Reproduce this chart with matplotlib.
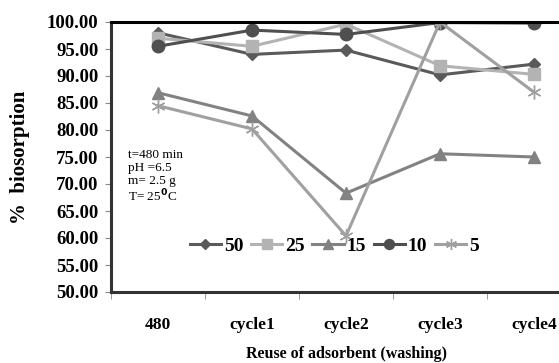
import matplotlib.pyplot as plt

plt.rcParams['font.family'] = ['Liberation Serif', 'DejaVu Serif']

cycles = ['480', 'cycle1', 'cycle2', 'cycle3', 'cycle4']
s50 = [98.0, 94.0, 94.8, 90.2, 92.2]
s25 = [97.0, 95.5, 99.6, 91.9, 90.3]
s15 = [86.9, 82.6, 68.3, 75.6, 75.0]
s10 = [95.5, 98.5, 97.7, 99.9, 99.8]
s5 = [84.5, 80.2, 60.4, 100.0, 87.0]
labels = ['50', '25', '15', '10', '5']

fig = plt.figure(figsize=(5.59, 3.63), dpi=100)
ax = fig.add_axes([111 / 559, 71 / 363, 470 / 559, 270 / 363])

x = range(len(cycles))
ax.plot(x, s50, color='#5a5a5a', lw=2.2, marker='D', ms=6, label=labels[0])
ax.plot(x, s25, color='#b3b3b3', lw=2.2, marker='s', ms=9, label=labels[1])
ax.plot(x, s15, color='#828282', lw=2.2, marker='^', ms=9, label=labels[2])
ax.plot(x, s10, color='#4f4f4f', lw=2.2, marker='o', ms=9, label=labels[3])
ax.plot(x, s5, color='#a0a0a0', lw=2.2, marker=(6, 2, 0), ms=10, mew=1.0, label=labels[4])

ax.set_ylim(50, 100)
ax.set_xlim(-0.5, 4.5)
ax.set_yticks(range(50, 101, 5))
ax.set_yticklabels([f'{v:.2f}' for v in range(50, 101, 5)], fontsize=13.5, fontweight='bold')
ax.set_xticks(list(x))
ax.set_xticklabels(cycles, fontsize=12.5, fontweight='bold')
ax.tick_params(axis='x', which='major', length=0, pad=18)
ax.set_xticks([i - 0.5 for i in range(6)], minor=True)
ax.tick_params(axis='x', which='minor', length=5, color='#888888')
ax.tick_params(axis='y', length=4, color='#888888', pad=5)

for side in ['left', 'bottom']:
    ax.spines[side].set_linewidth(2.2)
    ax.spines[side].set_color('#333333')
ax.spines['top'].set_linewidth(2.2)
ax.spines['top'].set_color('black')
ax.spines['right'].set_visible(False)

ax.set_ylabel('%  biosorption', fontsize=15, fontweight='bold', labelpad=12)
ax.set_xlabel('Reuse of adsorbent (washing)', fontsize=11.5, fontweight='bold', labelpad=9)

ax.text(0.037, 0.53, 't=480 min\npH =6.5\nm= 2.5 g\nT= 25$^{\\mathbf{0}}$C', transform=ax.transAxes,
        fontsize=9.5, va='top', ha='left', linespacing=1.1)

ax.legend(loc='center', bbox_to_anchor=(0.475, 0.17), ncol=5, frameon=False,
          prop={'size': 14, 'weight': 'bold'}, handlelength=1.6, handletextpad=0.15,
          columnspacing=0.4, borderpad=0, markerscale=0.8)

fig.savefig('out.png', dpi=100)
